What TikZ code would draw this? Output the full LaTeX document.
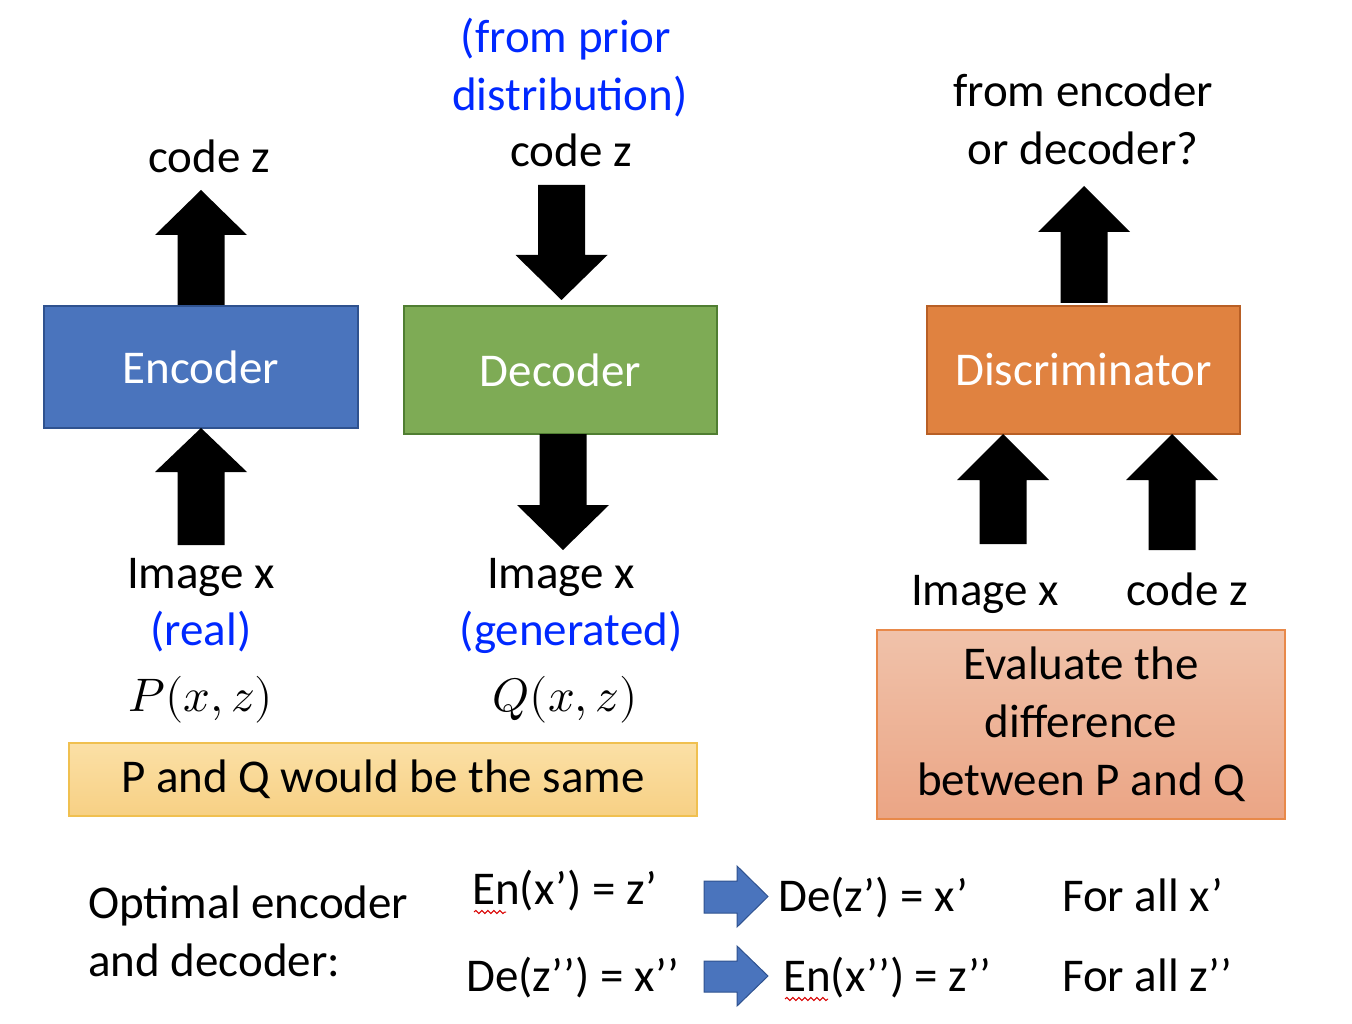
\documentclass[tikz,border=0pt]{standalone}
\usepackage{fontspec}
\usepackage{unicode-math}
\setmainfont{Carlito}
\setmathfont{Latin Modern Math}
\usetikzlibrary{decorations.pathmorphing}
\definecolor{encfill}{HTML}{4A74BD}
\definecolor{encdraw}{HTML}{2F528F}
\definecolor{decfill}{HTML}{7EAB55}
\definecolor{decdraw}{HTML}{507E32}
\definecolor{disfill}{HTML}{E08240}
\definecolor{disdraw}{HTML}{B85F25}
\definecolor{txtblue}{RGB}{0,40,255}
\definecolor{yeltop}{HTML}{FBE0A6}
\definecolor{yelbot}{HTML}{F7D084}
\definecolor{yeldraw}{HTML}{F0C050}
\definecolor{saltop}{HTML}{F0C2AA}
\definecolor{salbot}{HTML}{EBA585}
\definecolor{saldraw}{HTML}{E8894A}
\newcommand\blkarrow[4]{%
  \fill ({#1-23.5},#2) -- ({#1-23.5},#3) -- ({#1-46},#3) -- (#1,#4) -- ({#1+46},#3) -- ({#1+23.5},#3) -- ({#1+23.5},#2) -- cycle;}
\tikzset{
  big/.style={font=\fontsize{47}{58}\selectfont, inner sep=0pt},
  lbl/.style={big, anchor=base},
  lblw/.style={big, anchor=base west},
  box/.style={big, draw, line width=1.5pt, text=white, inner sep=0pt},
  shbox/.style={big, draw, line width=1.2pt, align=center, inner sep=0pt},
  rarrow/.style={fill=encfill, draw=encdraw, line width=1pt},
  wavy/.style={red!85!black, line width=1pt, decorate, decoration={snake, amplitude=1.6pt, segment length=6pt}}
}
\begin{document}
\begin{tikzpicture}[x=1pt,y=-1pt]
\useasboundingbox (0,0) rectangle (1352,1024);
% boxes
\node[box, fill=encfill, draw=encdraw, minimum width=314, minimum height=122] (enc) at (201,367) {Encoder};
\node[box, fill=decfill, draw=decdraw, minimum width=313, minimum height=128] (dec) at (560.5,370) {Decoder};
\node[box, fill=disfill, draw=disdraw, minimum width=313, minimum height=128] (dis) at (1083.5,370) {Discriminator};
% block arrows
\blkarrow{201}{305}{235}{190}
\blkarrow{201}{545}{472}{428}
\blkarrow{561.5}{185}{255}{300}
\blkarrow{563}{434}{505}{550}
\blkarrow{1084}{303}{232}{186}
\blkarrow{1003}{544}{480}{434}
\blkarrow{1172}{550}{480}{434}
% top labels
\node[lbl] (cz1) at (209,173) {code z};
\node[lbl, text=txtblue] (fp) at (566,53) {(from prior};
\node[lbl, text=txtblue] (di) at (570,111) {distribution)};
\node[lbl] (cz2) at (571,167) {code z};
\node[lbl] (fe) at (1083,107) {from encoder};
\node[lbl] (od) at (1083,165) {or decoder?};
% lower labels
\node[lbl] (ix1) at (201,588) {Image x};
\node[lbl, text=txtblue] (re) at (201,645) {(real)};
\node[lbl] (pxz) at (201,711) {$P(x,z)$};
\node[lbl] (ix2) at (561,588) {Image x};
\node[lbl, text=txtblue] (ge) at (571,645) {(generated)};
\node[lbl] (qxz) at (565,711) {$Q(x,z)$};
\node[lbl] (ix3) at (985,605) {Image x};
\node[lbl] (cz3) at (1187,605) {code z};
% shaded boxes
\node[shbox, top color=yeltop, bottom color=yelbot, draw=yeldraw, minimum width=628, minimum height=73] (same) at (383,779.5) {P and Q would be the same};
\node[shbox, top color=saltop, bottom color=salbot, draw=saldraw, minimum width=408, minimum height=189] (eval) at (1081,724.5) {Evaluate the\\difference\\between P and Q};
% bottom
\node[lblw] (opt1) at (88,918) {Optimal encoder};
\node[lblw] (opt2) at (88,976) {and decoder:};
\node[lblw] (e1) at (472,904) {En(x’) = z’};
\node[lblw] (d1) at (778,911) {De(z’) = x’};
\node[lblw] (f1) at (1062,911) {For all x’};
\node[lblw] (d2) at (466,991) {De(z’{}’) = x’{}’};
\node[lblw] (e2) at (783,991) {En(x’{}’) = z’{}’};
\node[lblw] (f2) at (1062,991) {For all z’{}’};
\draw[rarrow] (704,881) -- (737,881) -- (737,866) -- (768,896.5) -- (737,927) -- (737,913) -- (704,913) -- cycle;
\draw[rarrow] (704,961) -- (737,961) -- (737,946) -- (768,976) -- (737,1006) -- (737,992) -- (704,992) -- cycle;
\draw[wavy] (474,912) -- (506,912);
\draw[wavy] (785,999) -- (828,999);
\end{tikzpicture}
\end{document}
